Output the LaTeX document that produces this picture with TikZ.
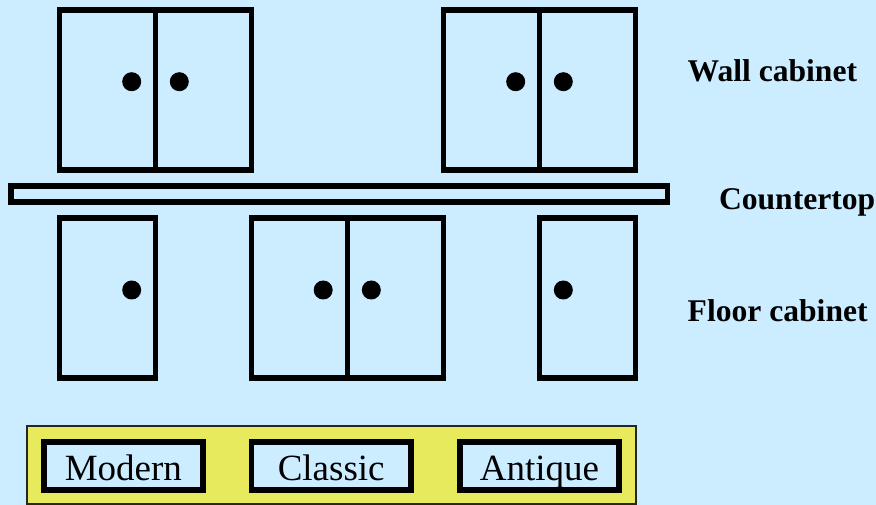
\documentclass[tikz,border=0pt]{standalone}
\usepackage{fontspec}
\setmainfont{Liberation Serif}
\definecolor{sky}{RGB}{204,236,255}
\definecolor{panelyellow}{RGB}{232,234,94}
\tikzset{
  unit/.style={draw=black, line width=5.8pt, fill=sky, rectangle, inner sep=0pt, outer sep=0pt, anchor=north west},
  knob/.style={circle, fill=black, minimum size=19pt, inner sep=0pt, outer sep=0pt},
  divider/.style={line width=5.8pt},
  tag/.style={font=\bfseries\fontsize{31.6}{31.6}\selectfont, anchor=base west, inner sep=0pt, outer sep=0pt},
  stylebox/.style={draw=black, line width=5.8pt, fill=sky, rectangle, inner sep=0pt, outer sep=0pt,
    minimum width=159.5pt, minimum height=48pt, text height=28pt, text depth=0pt,
    font=\fontsize{37}{37}\selectfont},
}
\begin{document}
\begin{tikzpicture}[x=1pt, y=-1pt]
  % background
  \fill[sky] (0,0) rectangle (876,505);
  \useasboundingbox (0,0) rectangle (876,505);

  % wall cabinets (double doors)
  \node[unit, minimum width=192pt, minimum height=160pt] (wallA) at (59.5,9.7) {};
  \draw[divider] (wallA.north) -- (wallA.south);
  \node[knob] (wallAk1) at (131.7,81.7) {};
  \node[knob] (wallAk2) at (179.3,81.7) {};

  \node[unit, minimum width=192pt, minimum height=160pt] (wallB) at (443.5,9.7) {};
  \draw[divider] (wallB.north) -- (wallB.south);
  \node[knob] (wallBk1) at (515.7,81.7) {};
  \node[knob] (wallBk2) at (563.3,81.7) {};

  % countertop
  \node[unit, minimum width=656.2pt, minimum height=15.5pt] (counter) at (11.3,186.3) {};

  % floor cabinets
  \node[unit, minimum width=96pt, minimum height=160pt] (floorA) at (59.5,218) {};
  \node[knob] (floorAk) at (131.7,290) {};

  \node[unit, minimum width=192pt, minimum height=160pt] (floorB) at (251.5,218) {};
  \draw[divider] (floorB.north) -- (floorB.south);
  \node[knob] (floorBk1) at (323.2,290) {};
  \node[knob] (floorBk2) at (371.3,290) {};

  \node[unit, minimum width=96pt, minimum height=160pt] (floorC) at (539.5,218) {};
  \node[knob] (floorCk) at (563.3,290) {};

  % labels
  \node[tag] (wallTag) at (687.7,81.7) {Wall cabinet};
  \node[tag] (counterTag) at (719,210) {Countertop};
  \node[tag] (floorTag) at (687.7,321.7) {Floor cabinet};

  % style selection panel
  \draw[fill=panelyellow, draw=black!85, line width=1.5pt] (26.8,425.8) rectangle (636,503.8);
  \node[stylebox] (modern) at (123.4,466) {Modern};
  \node[stylebox] (classic) at (331.2,466) {Classic};
  \node[stylebox] (antique) at (539.5,466) {Antique};
\end{tikzpicture}
\end{document}
